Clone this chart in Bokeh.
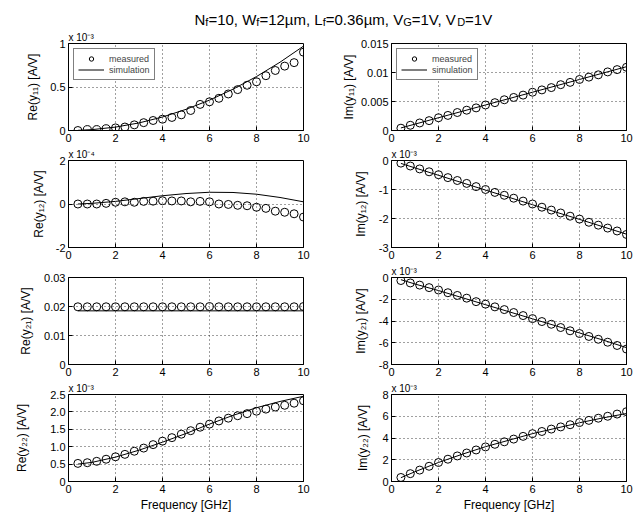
from bokeh.plotting import figure
from bokeh.layouts import column, row
from bokeh.models import Legend, LegendItem, Title, FixedTicker, Range1d
from bokeh.core.properties import value
from bokeh.embed import file_html
from bokeh.resources import INLINE

FONT = "Liberation Sans"

# ---------------- data ----------------
freq = [0.4, 0.8, 1.2, 1.6, 2.0, 2.4, 2.8, 3.2, 3.6, 4.0, 4.4, 4.8, 5.2,
        5.6, 6.0, 6.4, 6.8, 7.2, 7.6, 8.0, 8.4, 8.8, 9.2, 9.6, 10.0]
freq_sim = [0.4, 1, 2, 3, 4, 5, 6, 7, 8, 9, 10]
x_ticks = [0, 2, 4, 6, 8, 10]

# Re(y11) [x 1e-3]
re_y11_meas = [0.0, 0.01, 0.01, 0.02, 0.03, 0.04, 0.065, 0.09, 0.115, 0.13, 0.15, 0.18, 0.23,
               0.30, 0.33, 0.37, 0.42, 0.47, 0.52, 0.56, 0.63, 0.69, 0.74, 0.78, 0.90]
re_y11_sim = [0.002, 0.01, 0.039, 0.087, 0.155, 0.243, 0.349, 0.475, 0.62, 0.785, 0.97]
# Im(y11)
im_y11_meas = [0.0004, 0.0009, 0.0013, 0.0017, 0.0022, 0.0026, 0.0031, 0.0035, 0.0039, 0.0044,
               0.0048, 0.0053, 0.0057, 0.0061, 0.0066, 0.0070, 0.0074, 0.0079, 0.0083, 0.0088,
               0.0092, 0.0096, 0.0101, 0.0105, 0.0109]
im_y11_sim = [0.00044, 0.0011, 0.0022, 0.0033, 0.0044, 0.0055, 0.0066, 0.0077, 0.0088, 0.0099, 0.011]
# Re(y12) [x 1e-4]
re_y12_meas = [0.0, 0.0, 0.0, 0.03, 0.08, 0.10, 0.08, 0.12, 0.13, 0.15, 0.14, 0.14, 0.10,
               0.12, 0.10, 0.0, -0.02, -0.06, -0.08, -0.15, -0.20, -0.33, -0.38, -0.45, -0.60]
re_y12_sim = [0.0, 0.03, 0.12, 0.25, 0.38, 0.48, 0.54, 0.53, 0.45, 0.30, 0.10]
# Im(y12) [x 1e-3]
im_y12_meas = [-0.09, -0.19, -0.29, -0.39, -0.49, -0.59, -0.69, -0.79, -0.90, -1.00, -1.10, -1.20,
               -1.30, -1.40, -1.50, -1.61, -1.71, -1.81, -1.92, -2.02, -2.13, -2.23, -2.33, -2.43, -2.55]
im_y12_sim = [-0.10, -0.255, -0.51, -0.765, -1.02, -1.27, -1.525, -1.78, -2.03, -2.285, -2.54]
# Re(y21)
re_y21_meas = [0.0199, 0.0199, 0.0199, 0.0199, 0.0199, 0.0199, 0.0199, 0.0199, 0.0199, 0.0199,
               0.0199, 0.0199, 0.0199, 0.0199, 0.0200, 0.0199, 0.0199, 0.0199, 0.0199, 0.0199,
               0.0199, 0.0199, 0.0199, 0.0199, 0.0200]
re_y21_sim = [0.0185, 0.0185, 0.0185, 0.0185, 0.0185, 0.0185, 0.0185, 0.0185, 0.0185, 0.0185, 0.0185]
# Im(y21) [x 1e-3]
im_y21_meas = [-0.28, -0.50, -0.70, -0.93, -1.15, -1.40, -1.65, -1.90, -2.22, -2.45, -2.70, -2.95,
               -3.22, -3.50, -3.78, -4.05, -4.30, -4.60, -4.90, -5.15, -5.42, -5.68, -5.95, -6.25, -6.58]
im_y21_sim = [-0.20, -0.60, -1.20, -1.85, -2.50, -3.15, -3.80, -4.45, -5.10, -5.75, -6.45]
# Re(y22) [x 1e-3]
re_y22_meas = [0.52, 0.54, 0.58, 0.64, 0.71, 0.78, 0.87, 0.96, 1.06, 1.16, 1.26, 1.36, 1.46,
               1.56, 1.65, 1.74, 1.82, 1.89, 1.95, 2.02, 2.08, 2.14, 2.19, 2.25, 2.32]
re_y22_sim = [0.50, 0.55, 0.70, 0.90, 1.13, 1.38, 1.65, 1.90, 2.12, 2.30, 2.45]
# Im(y22) [x 1e-3]
im_y22_meas = [0.37, 0.72, 1.05, 1.40, 1.75, 2.05, 2.35, 2.62, 2.90, 3.18, 3.42, 3.65, 3.90,
               4.15, 4.40, 4.60, 4.82, 5.02, 5.22, 5.42, 5.62, 5.82, 6.00, 6.20, 6.42]
im_y22_sim = [0.35, 0.90, 1.75, 2.50, 3.20, 3.80, 4.40, 4.90, 5.40, 5.85, 6.25]

# y-axis ticks and labels
re_y11_ticks = [0, 0.5, 1]
re_y11_labels = ["0", "0.5", "1"]
im_y11_ticks = [0, 0.005, 0.01, 0.015]
im_y11_labels = ["0", "0.005", "0.01", "0.015"]
re_y12_ticks = [-2, 0, 2]
re_y12_labels = ["-2", "0", "2"]
im_y12_ticks = [-3, -2, -1, 0]
im_y12_labels = ["-3", "-2", "-1", "0"]
re_y21_ticks = [0, 0.01, 0.02, 0.03]
re_y21_labels = ["0", "0.01", "0.02", "0.03"]
im_y21_ticks = [-8, -6, -4, -2, 0]
im_y21_labels = ["-8", "-6", "-4", "-2", "0"]
re_y22_ticks = [0, 0.5, 1.0, 1.5, 2.0, 2.5]
re_y22_labels = ["0", "0.5", "1.0", "1.5", "2.0", "2.5"]
im_y22_ticks = [0, 2, 4, 6, 8]
im_y22_labels = ["0", "2", "4", "6", "8"]

title_parts = [("N", False), ("f", True), ("=10, W", False), ("f", True), ("=12\u00b5m, L", False),
               ("f", True), ("=0.36\u00b5m, V", False), ("G", True), ("=1V, V", False),
               ("D", True), ("=1V", False)]

# ---------------- layout helpers ----------------
ARIAL = {"N": 722, "f": 278, "=": 584, "1": 556, "0": 556, ",": 278, " ": 278, "W": 944,
         "2": 556, "\u00b5": 576, "m": 833, "L": 556, ".": 278, "3": 556, "6": 556,
         "V": 667, "G": 778, "D": 722}


def text_width(s, size):
    return sum(ARIAL.get(c, 556) for c in s) / 1000.0 * size


FRAME_W = 235
FRAME_H = 88
TOPS = [13, 13, 13, 13]
BOTTOMS = [16, 16, 16, 37]


def make_panel(meas, sim, yr, yticks, ylabels, ylabel, exponent, col, r, standoff, legend=False):
    left = col == 0
    mb_left = 68 if left else 56
    mb_right = 32 if left else 14
    mb_top = TOPS[r]
    mb_bottom = BOTTOMS[r]
    p = figure(width=mb_left + FRAME_W + mb_right, height=mb_top + FRAME_H + mb_bottom,
               x_range=Range1d(0, 10), y_range=Range1d(*yr), title=None,
               output_backend="svg", toolbar_location=None,
               min_border_left=mb_left, min_border_right=mb_right,
               min_border_top=mb_top, min_border_bottom=mb_bottom)
    p.outline_line_color = "black"
    p.outline_line_width = 1
    p.outline_line_alpha = 1
    p.grid.grid_line_color = "black"
    p.grid.grid_line_alpha = 0.75
    p.grid.grid_line_dash = "1 3"
    p.grid.grid_line_width = 1

    p.xaxis.ticker = FixedTicker(ticks=x_ticks)
    p.yaxis.ticker = FixedTicker(ticks=yticks)
    p.yaxis.major_label_overrides = {t: l for t, l in zip(yticks, ylabels)}
    for ax in (p.xaxis[0], p.yaxis[0]):
        ax.major_label_text_font = FONT
        ax.major_label_text_font_size = "11px"
        ax.major_label_text_color = "black"
        ax.axis_label_text_font = FONT
        ax.axis_label_text_font_size = "12px"
        ax.axis_label_text_font_style = "normal"
        ax.axis_label_text_color = "black"
        ax.major_tick_in = 4
        ax.major_tick_out = 0
        ax.minor_tick_in = 0
        ax.minor_tick_out = 0
        ax.axis_line_color = "black"
        ax.major_tick_line_color = "black"
        ax.major_label_standoff = 3
    p.yaxis.axis_label = ylabel
    p.yaxis.axis_label_standoff = standoff
    if r == 3:
        p.xaxis.axis_label = "Frequency [GHz]"
        p.xaxis.axis_label_standoff = 2

    r_meas = p.scatter(freq, meas, marker="circle", size=8, fill_color=None,
                       line_color="black", line_width=1)
    r_sim = p.line(freq_sim, sim, line_color="black", line_width=1)

    if exponent:
        p.add_layout(Title(text="x 10" + exponent, align="left", text_font=FONT,
                           text_font_size="10px", text_font_style="normal",
                           text_color="black", standoff=1, offset=0), "above")
    if legend:
        lg = Legend(items=[LegendItem(label="measured", renderers=[r_meas]),
                           LegendItem(label="simulation", renderers=[r_sim])],
                    location="top_left", margin=5, padding=4, spacing=0,
                    glyph_width=26, glyph_height=11, label_height=11, label_standoff=5,
                    label_text_font=FONT, label_text_font_size="9px",
                    border_line_color="black", border_line_width=1,
                    background_fill_color="white", background_fill_alpha=1)
        p.add_layout(lg)
    return p


# title figure (data units == pixels)
TITLE_H = 29
title_fig = figure(width=640, height=TITLE_H, x_range=Range1d(0, 640), y_range=Range1d(0, TITLE_H),
                   title=None, output_backend="svg", toolbar_location=None, min_border=0,
                   x_axis_location=None, y_axis_location=None)
title_fig.outline_line_color = None
title_fig.grid.visible = False
MAIN, SUB = 15, 11
x = 194.0
mx, my, mt, sx, sy, st = [], [], [], [], [], []
for txt, is_sub in title_parts:
    if is_sub:
        sx.append(x); sy.append(7.3); st.append(txt)
        x += text_width(txt, SUB)
    else:
        mx.append(x); my.append(10.0); mt.append(txt)
        x += text_width(txt, MAIN)
title_fig.text(x=mx, y=my, text=mt, text_font=value(FONT), text_font_size=value(f"{MAIN}px"),
               text_color="black", text_baseline="alphabetic", text_align="left")
title_fig.text(x=sx, y=sy, text=st, text_font=value(FONT), text_font_size=value(f"{SUB}px"),
               text_color="black", text_baseline="alphabetic", text_align="left")

SUP3 = "\u207b\u00b3"
SUP4 = "\u207b\u2074"
p11r = make_panel(re_y11_meas, re_y11_sim, (0, 1), re_y11_ticks, re_y11_labels,
                  "Re(y\u2081\u2081) [A/V]", SUP3, 0, 0, 7, legend=True)
p11i = make_panel(im_y11_meas, im_y11_sim, (0, 0.015), im_y11_ticks, im_y11_labels,
                  "Im(y\u2081\u2081) [A/V]", None, 1, 0, 2, legend=True)
p12r = make_panel(re_y12_meas, re_y12_sim, (-2, 2), re_y12_ticks, re_y12_labels,
                  "Re(y\u2081\u2082) [A/V]", SUP4, 0, 1, 7)
p12i = make_panel(im_y12_meas, im_y12_sim, (-3, 0), im_y12_ticks, im_y12_labels,
                  "Im(y\u2081\u2082) [A/V]", SUP3, 1, 1, 8)
p21r = make_panel(re_y21_meas, re_y21_sim, (0, 0.03), re_y21_ticks, re_y21_labels,
                  "Re(y\u2082\u2081) [A/V]", None, 0, 2, 8)
p21i = make_panel(im_y21_meas, im_y21_sim, (-8, 0), im_y21_ticks, im_y21_labels,
                  "Im(y\u2082\u2081) [A/V]", SUP3, 1, 2, 8)
p22r = make_panel(re_y22_meas, re_y22_sim, (0, 2.5), re_y22_ticks, re_y22_labels,
                  "Re(y\u2082\u2082) [A/V]", SUP3, 0, 3, 18)
p22i = make_panel(im_y22_meas, im_y22_sim, (0, 8), im_y22_ticks, im_y22_labels,
                  "Im(y\u2082\u2082) [A/V]", SUP3, 1, 3, 9)

layout = column(title_fig,
                row(p11r, p11i), row(p12r, p12i), row(p21r, p21i), row(p22r, p22i))

open("out.html", "w").write(file_html(layout, INLINE))
